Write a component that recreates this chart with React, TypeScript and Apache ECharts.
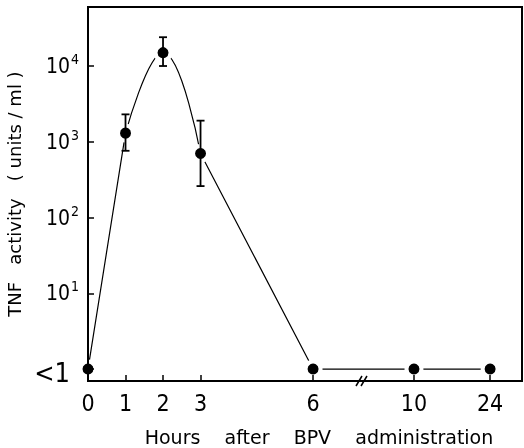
import React, { useEffect, useRef } from "react";
import * as echarts from "echarts";

// Hours after BPV administration
const hours = [0, 1, 2, 3, 6, 10, 24];
// TNF activity (units/ml); 1 means "<1"
const tnf = [1, 1300, 15000, 700, 1, 1, 1];
const errLow = [null, 760, 10000, 260, null, null, null];
const errHigh = [null, 2300, 24000, 1900, null, null, null];
const yTickPowers = [0, 1, 2, 3, 4];
// points joined by the smooth peak curve
const peakIdx = [1, 2, 3];

// broken x axis: linear up to 6 h, then compressed
const brokenAxis: Record<number, number> = { 10: 8.69, 24: 10.72 };
const xPos = (h: number) => (h <= 6 ? h : brokenAxis[h]);
const lg = (v: number) => Math.log10(v);

const FONT = "'Liberation Sans Narrow', 'DejaVu Sans Condensed', 'DejaVu Sans', sans-serif";

export default function App() {
  const ref = useRef<HTMLDivElement>(null);
  useEffect(() => {
    const chart = echarts.init(ref.current!, null, { renderer: "svg" });
    const xTickVals = hours.map(xPos);
    const pts = hours.map((h, i) => [xPos(h), lg(tnf[i])]);
    // straight segments (break around the peak, which is drawn smooth)
    const straight = pts.map((p, i) => (i === 2 ? [p[0], null] : p));
    const curve = peakIdx.map((i) => pts[i]);
    const errData = hours
      .map((h, i) => (errLow[i] != null ? [xPos(h), lg(errLow[i] as number), lg(errHigh[i] as number)] : null))
      .filter((d) => d) as number[][];
    const marker = { color: "#000", borderColor: "#fff", borderWidth: 4, opacity: 1 };
    chart.setOption({
      animation: false,
      grid: {
        left: 88, right: 2, top: 7, bottom: 67,
        containLabel: false, outerBoundsMode: "none",
        show: true, borderColor: "#000", borderWidth: 2,
      },
      xAxis: {
        type: "value",
        min: 0,
        max: 11.57,
        z: 3,
        axisLine: { onZero: false, lineStyle: { color: "#000", width: 2 } },
        axisTick: { inside: true, length: 6, lineStyle: { color: "#000", width: 1.5 }, customValues: xTickVals },
        axisLabel: {
          customValues: xTickVals,
          margin: 10,
          color: "#000",
          fontFamily: FONT,
          fontSize: 23,
          formatter: (v: number) => {
            const i = xTickVals.findIndex((p) => Math.abs(p - v) < 1e-6);
            return i >= 0 ? String(hours[i]) : "";
          },
        },
        splitLine: { show: false },
        name: "Hours    after    BPV    administration",
        nameLocation: "middle",
        nameGap: 46,
        nameTextStyle: { color: "#000", fontFamily: "'DejaVu Sans', sans-serif", fontSize: 19, padding: [0, 0, 0, 28] },
      },
      yAxis: {
        type: "value",
        min: -0.158,
        max: 4.779,
        z: 3,
        axisLine: { onZero: false, lineStyle: { color: "#000", width: 2 } },
        axisTick: { inside: true, length: 6, lineStyle: { color: "#000", width: 1.5 }, customValues: yTickPowers },
        axisLabel: {
          customValues: yTickPowers,
          margin: 9,
          color: "#000",
          formatter: (v: number) => (v === 0 ? "{lt|<1}" : `{a|10}{s|${v}}`),
          rich: {
            a: { fontFamily: FONT, fontSize: 21, color: "#000" },
            s: { fontFamily: FONT, fontSize: 14, color: "#000", padding: [0, 0, 14, 1] },
            lt: { fontFamily: FONT, fontSize: 27, color: "#000", padding: [6, 9, 0, 0] },
          },
        },
        splitLine: { show: false },
        name: "TNF   activity   ( units / ml )",
        nameLocation: "middle",
        nameGap: 61,
        nameTextStyle: { color: "#000", fontFamily: "'DejaVu Sans', sans-serif", fontSize: 18 },
      },
      series: [
        {
          type: "line",
          data: straight,
          connectNulls: false,
          symbol: "circle",
          symbolSize: 15,
          lineStyle: { color: "#000", width: 1.2 },
          itemStyle: marker,
          z: 2,
        },
        {
          type: "line",
          data: curve,
          smooth: 0.45,
          showSymbol: false,
          symbol: "none",
          lineStyle: { color: "#000", width: 1.2 },
          z: 1,
        },
        {
          type: "scatter",
          data: [pts[2]],
          symbol: "circle",
          symbolSize: 15,
          itemStyle: marker,
          z: 2,
        },
        {
          type: "custom",
          z: 4,
          data: errData,
          renderItem: (params: any, api: any) => {
            const x = api.coord([api.value(0), api.value(1)])[0];
            const yl = api.coord([api.value(0), api.value(1)])[1];
            const yh = api.coord([api.value(0), api.value(2)])[1];
            const style = { stroke: "#000", lineWidth: 1.8 };
            return {
              type: "group",
              children: [
                { type: "line", shape: { x1: x, y1: yl, x2: x, y2: yh }, style },
                { type: "line", shape: { x1: x - 4, y1: yl, x2: x + 4, y2: yl }, style },
                { type: "line", shape: { x1: x - 4, y1: yh, x2: x + 4, y2: yh }, style },
              ],
            };
          },
        },
      ],
      graphic: [
        { type: "line", shape: { x1: 356, y1: 386, x2: 362, y2: 376 }, style: { stroke: "#000", lineWidth: 1.5 }, z: 10 },
        { type: "line", shape: { x1: 361, y1: 386, x2: 367, y2: 376 }, style: { stroke: "#000", lineWidth: 1.5 }, z: 10 },
      ],
    });
    return () => chart.dispose();
  }, []);
  return <div ref={ref} style={{ position: "fixed", left: 0, top: 0, width: 524, height: 448 }} />;
}
